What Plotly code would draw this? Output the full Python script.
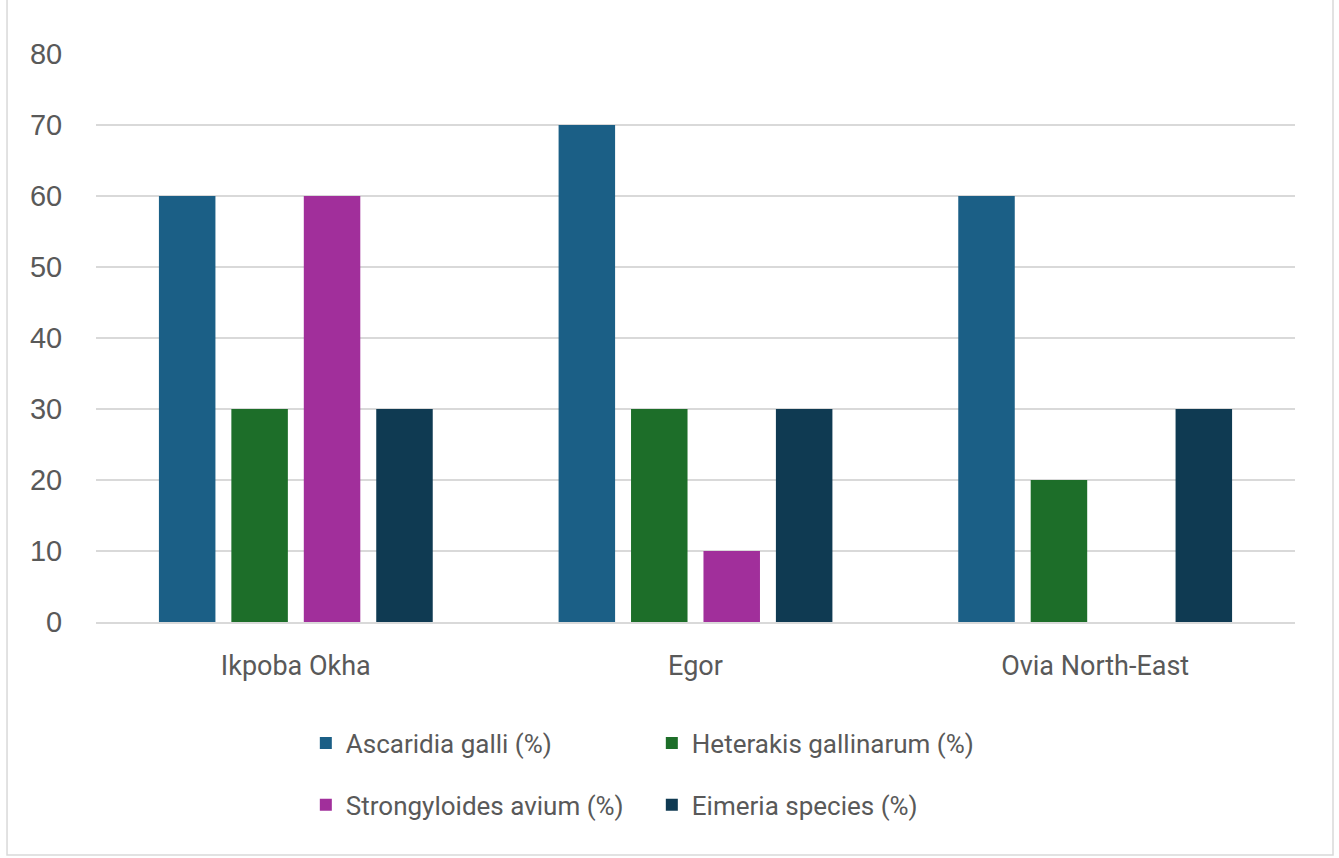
import plotly.graph_objects as go

# Prevalence of gastrointestinal parasites by local government area
areas = ["Ikpoba Okha", "Egor", "Ovia North-East"]
ascaridia = [60, 70, 60]
heterakis = [30, 30, 20]
strongyloides = [60, 10, 0]
eimeria = [30, 30, 30]

series = [
    ("Ascaridia galli (%)", ascaridia, "#1b5f86", "legend"),
    ("Heterakis gallinarum (%)", heterakis, "#1d6e29", "legend"),
    ("Strongyloides avium (%)", strongyloides, "#a12f9b", "legend2"),
    ("Eimeria species (%)", eimeria, "#0f3a52", "legend2"),
]

fig = go.Figure()
for name, vals, color, leg in series:
    fig.add_trace(go.Bar(
        x=areas, y=vals, name=name, marker_color=color,
        marker_line_width=0, legend=leg,
    ))

legend_font = dict(family="Roboto, sans-serif", size=26, color="#595959")
legend_common = dict(orientation="h", xanchor="left", yanchor="middle",
                     font=legend_font, entrywidth=301, entrywidthmode="pixels",
                     bgcolor="rgba(0,0,0,0)", itemclick=False, itemdoubleclick=False)

fig.update_layout(
    width=1339, height=858,
    margin=dict(l=96, r=44, t=54, b=236),
    paper_bgcolor="white", plot_bgcolor="white",
    barmode="group", bargap=0.275, bargroupgap=0.22,
    font=dict(family="Liberation Sans, Arial, sans-serif", color="#595959"),
    legend=dict(x=0.175, y=-0.213, **legend_common),
    legend2=dict(x=0.175, y=-0.322, **legend_common),
    shapes=[dict(type="rect", xref="paper", yref="paper",
                 x0=-0.0742, x1=1.0317, y0=-0.410, y1=1.10,
                 line=dict(color="#d9d9d9", width=1.5), fillcolor="rgba(0,0,0,0)",
                 layer="below")],
)

fig.update_yaxes(
    range=[0, 80], dtick=10, showgrid=True, gridcolor="#d9d9d9", gridwidth=1.5,
    zeroline=False, showline=False,
    ticks="outside", ticklen=27, tickcolor="rgba(0,0,0,0)",
    tickfont=dict(size=29, color="#595959"),
)
fig.update_xaxes(
    showline=True, linecolor="#d9d9d9", linewidth=1.5, showgrid=False,
    ticks="outside", ticklen=19, tickcolor="rgba(0,0,0,0)",
    tickfont=dict(family="Roboto, sans-serif", size=27, color="#595959"),
)

fig.write_html("out.html")
